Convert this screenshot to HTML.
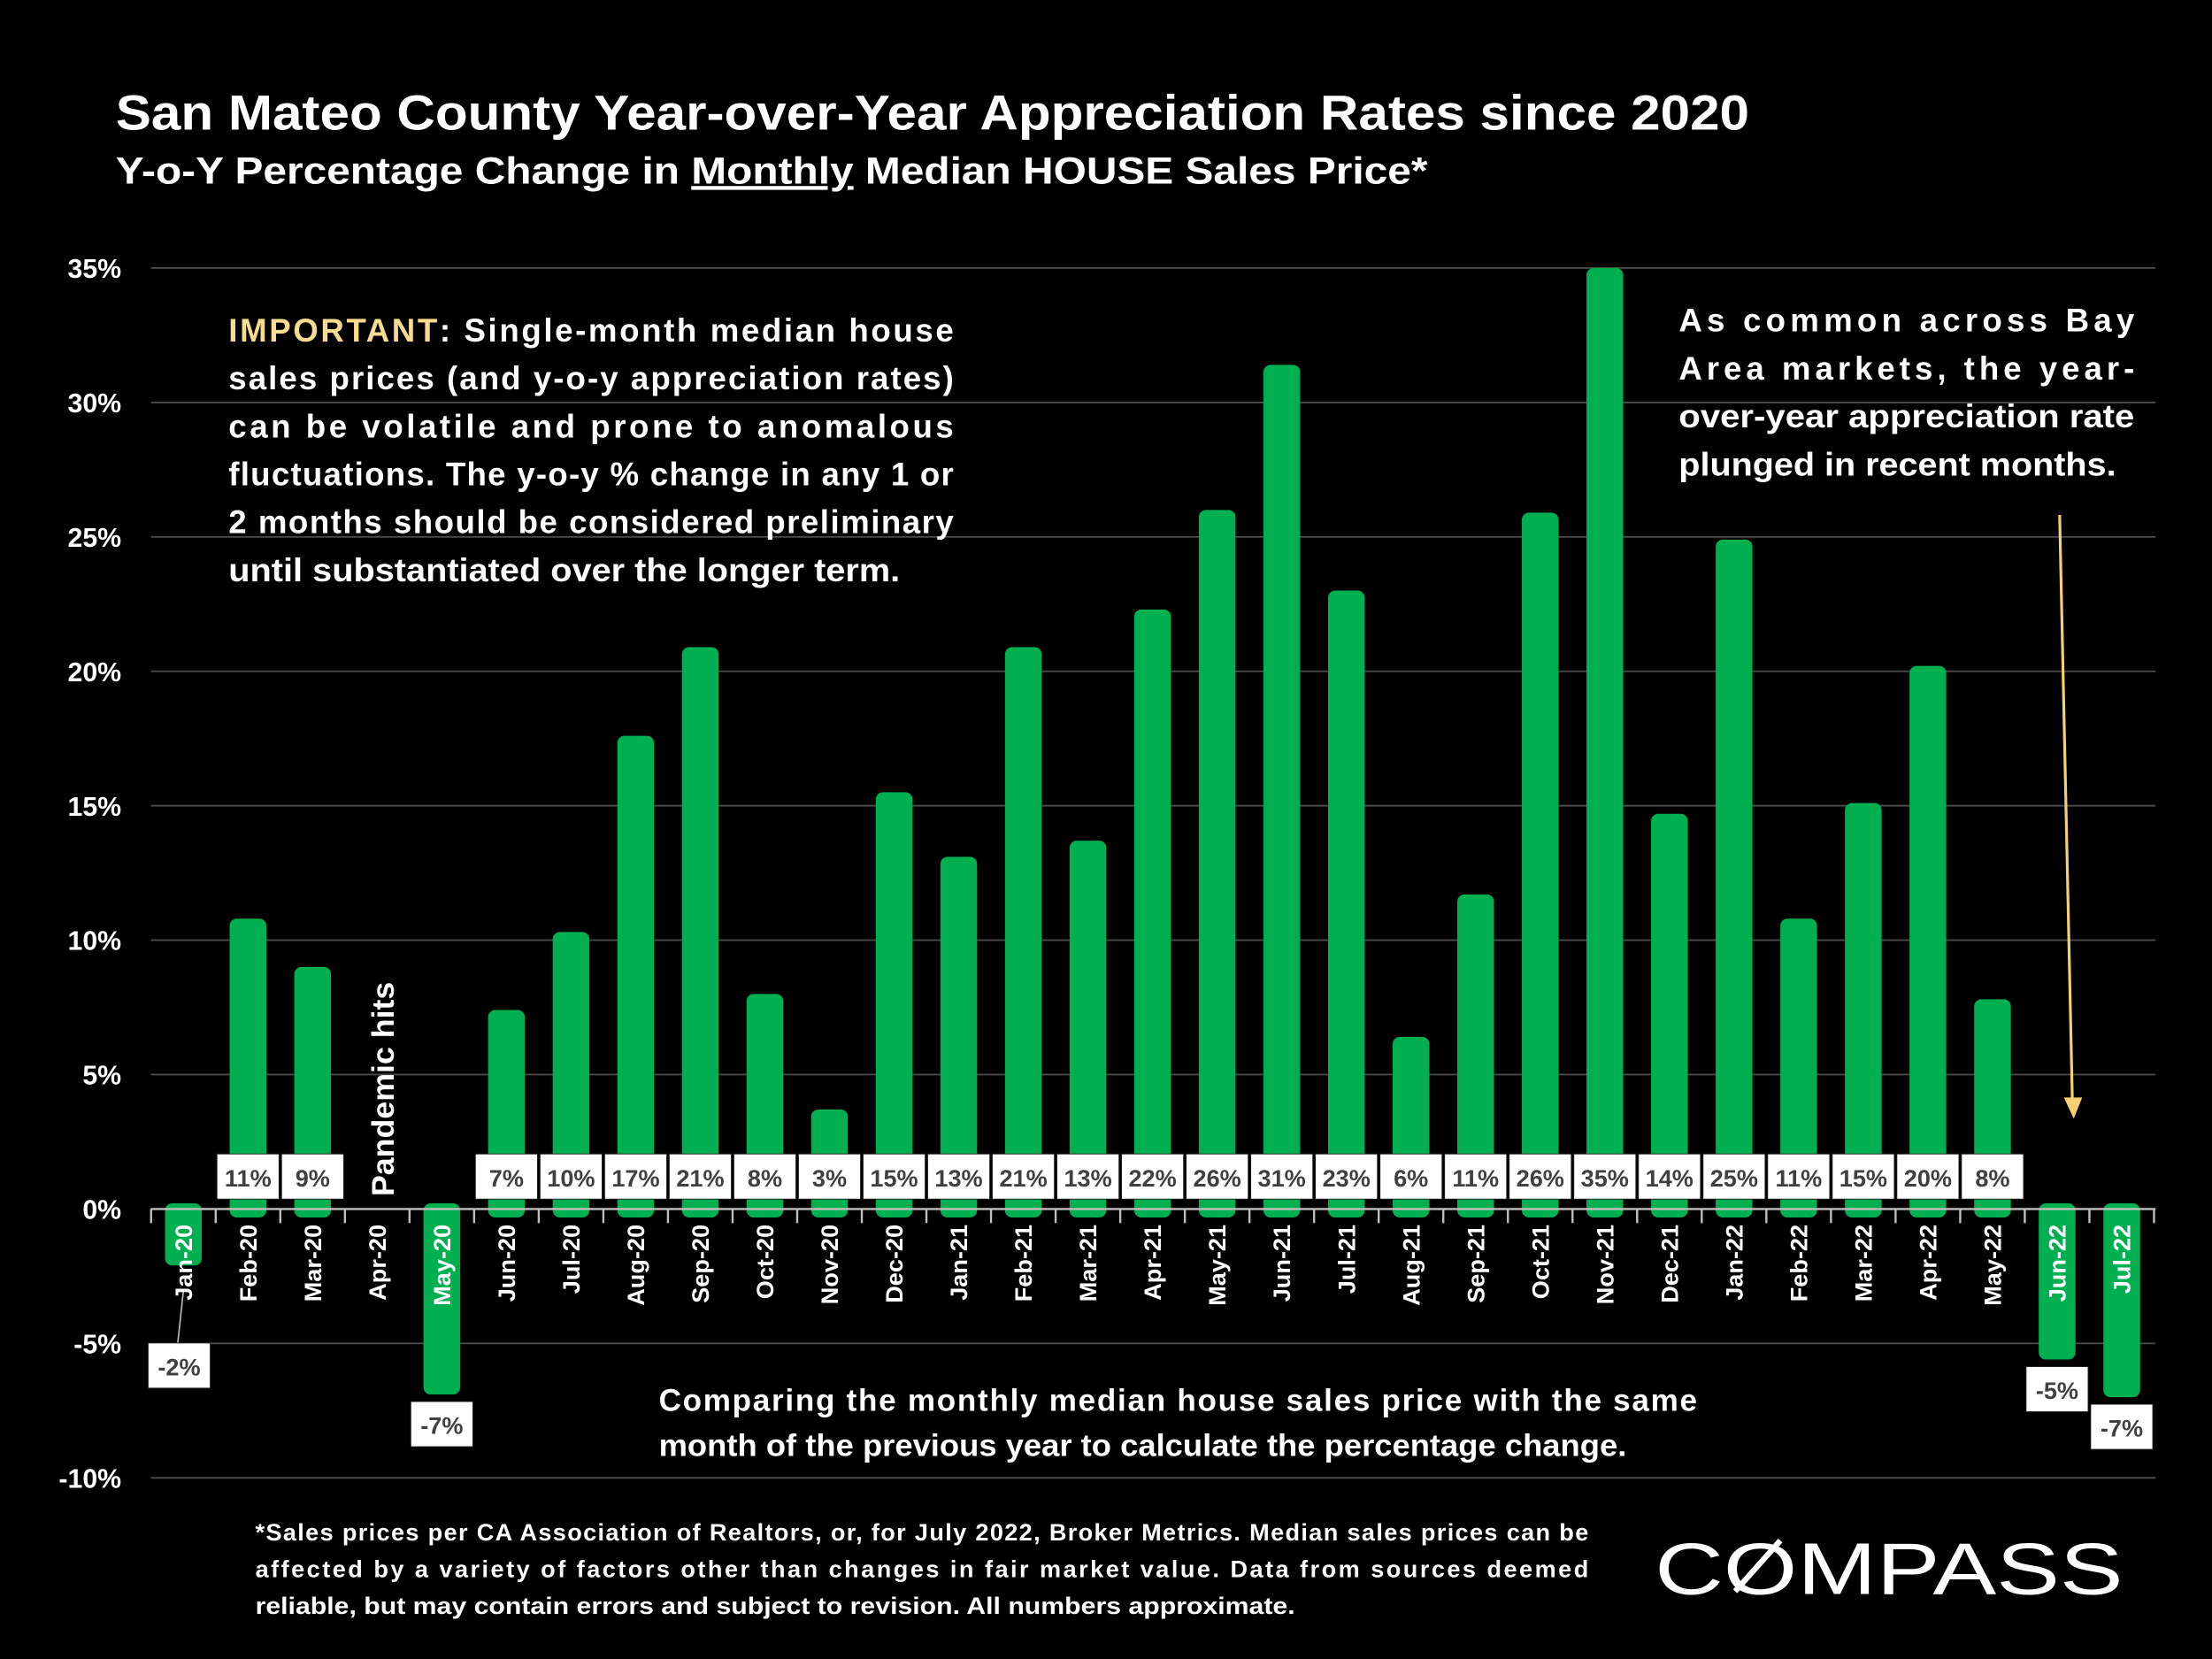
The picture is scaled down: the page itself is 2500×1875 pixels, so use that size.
<!DOCTYPE html>
<html><head><meta charset="utf-8"><style>
html,body{margin:0;padding:0;background:#000;}
svg{display:block;}
text{font-family:"Liberation Sans",sans-serif;font-weight:bold;}
</style></head><body>
<svg id="chart" width="2500" height="1875" viewBox="0 0 1568 1176" xmlns="http://www.w3.org/2000/svg">
<rect width="1568" height="1176" fill="#000"/>
<text x="82" y="92" font-size="35" fill="#fff" textLength="1158" lengthAdjust="spacingAndGlyphs">San Mateo County Year-over-Year Appreciation Rates since 2020</text>
<text x="82" y="130" font-size="27" fill="#fff" textLength="930" lengthAdjust="spacingAndGlyphs">Y-o-Y Percentage Change in <tspan text-decoration="underline">Monthly</tspan> Median HOUSE Sales Price*</text>
<g id="grid"></g>
<g id="bars"></g>
<g id="labels"></g>
<g id="xaxis"></g>
<text transform="translate(279,848) rotate(-90)" font-size="22" fill="#fff" textLength="152" lengthAdjust="spacingAndGlyphs">Pandemic hits</text>
<g font-size="23" fill="#fff">
<text x="162" y="242" textLength="514" lengthAdjust="spacing"><tspan fill="#f7dc8f">IMPORTANT</tspan>: Single-month median house</text>
<text x="162" y="276" textLength="514" lengthAdjust="spacing">sales prices (and y-o-y appreciation rates)</text>
<text x="162" y="310" textLength="514" lengthAdjust="spacing">can be volatile and prone to anomalous</text>
<text x="162" y="344" textLength="514" lengthAdjust="spacing">fluctuations. The y-o-y % change in any 1 or</text>
<text x="162" y="378" textLength="514" lengthAdjust="spacing">2 months should be considered preliminary</text>
<text x="162" y="412" textLength="476" lengthAdjust="spacingAndGlyphs">until substantiated over the longer term.</text>
</g>
<g font-size="23" fill="#fff">
<text x="1190" y="235" textLength="323" lengthAdjust="spacing">As common across Bay</text>
<text x="1190" y="269" textLength="323" lengthAdjust="spacing">Area markets, the year-</text>
<text x="1190" y="303" textLength="323" lengthAdjust="spacingAndGlyphs">over-year appreciation rate</text>
<text x="1190" y="337" textLength="310" lengthAdjust="spacingAndGlyphs">plunged in recent months.</text>
</g>
<line x1="1460" y1="365" x2="1469" y2="780" stroke="#f5cf72" stroke-width="2"/>
<polygon points="1463,778 1476,778 1470,793" fill="#f5cf72"/>
<g font-size="22" fill="#fff">
<text x="467" y="1000" textLength="736" lengthAdjust="spacing">Comparing the monthly median house sales price with the same</text>
<text x="467" y="1032" textLength="686" lengthAdjust="spacingAndGlyphs">month of the previous year to calculate the percentage change.</text>
</g>
<g font-size="17" fill="#fff">
<text x="181" y="1092" textLength="945" lengthAdjust="spacing">*Sales prices per CA Association of Realtors, or, for July 2022, Broker Metrics. Median sales prices can be</text>
<text x="181" y="1118" textLength="945" lengthAdjust="spacing">affected by a variety of factors other than changes in fair market value. Data from sources deemed</text>
<text x="181" y="1144" textLength="737" lengthAdjust="spacingAndGlyphs">reliable, but may contain errors and subject to revision. All numbers approximate.</text>
</g>
<text x="1173" y="1130" font-size="52" fill="#fff" style="font-weight:normal" textLength="332" lengthAdjust="spacingAndGlyphs">COMPASS</text>
<line x1="1230" y1="1128" x2="1262" y2="1092" stroke="#fff" stroke-width="4"/>
<script>
const categories=["Jan-20","Feb-20","Mar-20","Apr-20","May-20","Jun-20","Jul-20","Aug-20","Sep-20","Oct-20","Nov-20","Dec-20","Jan-21","Feb-21","Mar-21","Apr-21","May-21","Jun-21","Jul-21","Aug-21","Sep-21","Oct-21","Nov-21","Dec-21","Jan-22","Feb-22","Mar-22","Apr-22","May-22","Jun-22","Jul-22"];
const values=[-2.1,10.8,9.0,null,-6.9,7.4,10.3,17.6,20.9,8.0,3.7,15.5,13.1,20.9,13.7,22.3,26.0,31.4,23.0,6.4,11.7,25.9,35.0,14.7,24.9,10.8,15.1,20.2,7.8,-5.6,-7.0];
const valueLabels=["-2%","11%","9%","","-7%","7%","10%","17%","21%","8%","3%","15%","13%","21%","13%","22%","26%","31%","23%","6%","11%","26%","35%","14%","25%","11%","15%","20%","8%","-5%","-7%"];
const yTicks=[-10,-5,0,5,10,15,20,25,30,35];
const NS="http://www.w3.org/2000/svg";
const X0=130,STEP=45.8,PL=107,PR=1528;
const x=i=>X0+i*STEP;
const y=v=>857-v*(667/35);
function mk(tag,attrs,parent,txt){const e=document.createElementNS(NS,tag);for(const k in attrs)e.setAttribute(k,attrs[k]);if(txt!==undefined)e.textContent=txt;parent.appendChild(e);return e;}
const grid=document.getElementById('grid'),bars=document.getElementById('bars'),labels=document.getElementById('labels'),xaxis=document.getElementById('xaxis');
yTicks.forEach(t=>{
  if(t!==0){const l=mk('line',{x1:PL,x2:PR,y1:y(t),y2:y(t),stroke:'#4a4a4a','stroke-width':1.2},grid);
  
  }
  const tx=mk('text',{x:86,y:y(t)+7,'text-anchor':'end','font-size':19,fill:'#fff'},grid,t+'%');
  
  
});
const zl=mk('line',{x1:PL,x2:PR,y1:y(0),y2:y(0),stroke:'#bfbfbf','stroke-width':1.5},xaxis);


for(let i=0;i<=categories.length;i++){const bx=x(i)-STEP/2;const tk=mk('line',{x1:bx,x2:bx,y1:y(0),y2:y(0)+10,stroke:'#bfbfbf','stroke-width':1.5},xaxis);

}
values.forEach((v,i)=>{
  if(v===null)return;
  let top,bot;
  if(v>=0){top=y(v);bot=y(0)+6;}else{top=y(0)-4;bot=y(v);}
  const r=mk('rect',{x:x(i)-13,y:top,width:26,height:bot-top,rx:5,fill:'#00b050'},bars);
  
  
});
categories.forEach((c,i)=>{
  const t=mk('text',{transform:`translate(${x(i)+6},868) rotate(-90)`,'text-anchor':'end','font-size':17,fill:'#fff'},xaxis,c);
  
  
});
values.forEach((v,i)=>{
  if(v===null)return;
  let bx,by,w=44,h=32;
  if(v>=0){bx=x(i)-22;by=818;}
  else{bx=x(i)-22;by=y(v)+5;if(i===0){bx=x(i)-25;by=952;}}
  if(i===0){const ll=mk('line',{x1:x(0),y1:y(0)+58,x2:x(0)-4,y2:952,stroke:'#bfbfbf','stroke-width':1},labels);
  
  }
  const b=mk('rect',{x:bx,y:by,width:w,height:h,fill:'#fff',stroke:'#222','stroke-width':0.6},labels);
  
  
  const t=mk('text',{x:bx+w/2,y:by+23,'text-anchor':'middle','font-size':17,fill:'#404040'},labels,valueLabels[i]);
  
  
});
</script>
</svg>
</body></html>
